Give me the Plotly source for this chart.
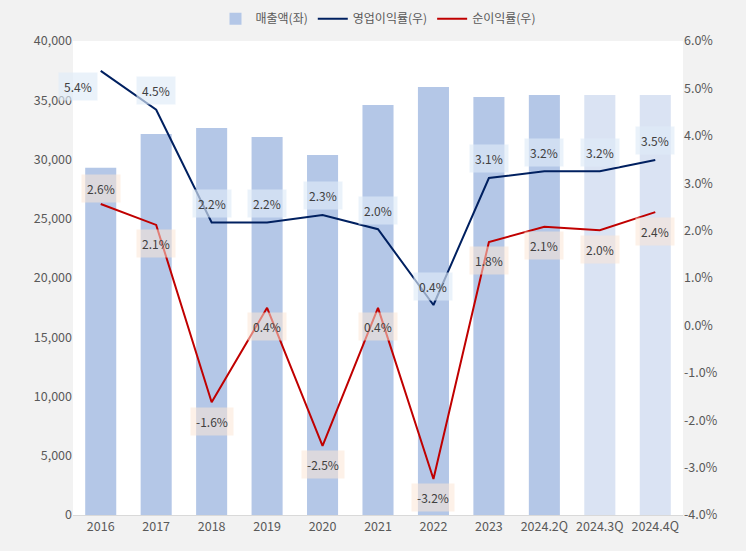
import plotly.graph_objects as go

categories = ["2016", "2017", "2018", "2019", "2020", "2021", "2022", "2023", "2024.2Q", "2024.3Q", "2024.4Q"]
sales = [29300, 32150, 32650, 31900, 30380, 34600, 36120, 35270, 35440, 35440, 35440]
op_margin = [5.37, 4.55, 2.17, 2.17, 2.33, 2.03, 0.43, 3.11, 3.25, 3.25, 3.49]
net_margin = [2.56, 2.12, -1.62, 0.37, -2.54, 0.37, -3.24, 1.76, 2.08, 2.01, 2.39]
op_labels = ["5.4%", "4.5%", "2.2%", "2.2%", "2.3%", "2.0%", "0.4%", "3.1%", "3.2%", "3.2%", "3.5%"]
net_labels = ["2.6%", "2.1%", "-1.6%", "0.4%", "-2.5%", "0.4%", "-3.2%", "1.8%", "2.1%", "2.0%", "2.4%"]
right_tickvals = [-4, -3, -2, -1, 0, 1, 2, 3, 4, 5, 6]
right_ticktext = ["-4.0%", "-3.0%", "-2.0%", "-1.0%", "0.0%", "1.0%", "2.0%", "3.0%", "4.0%", "5.0%", "6.0%"]

bar_colors = ["#b4c7e7"] * 9 + ["#dae3f3"] * 2
FONT = "Noto Sans CJK KR"

fig = go.Figure()
fig.add_trace(go.Bar(x=categories, y=sales, name="매출액(좌)", marker_color=bar_colors,
                     marker_line_width=0, width=0.56, yaxis="y"))
fig.add_trace(go.Scatter(x=categories, y=op_margin, name="영업이익률(우)", mode="lines",
                         line=dict(color="#002060", width=2), yaxis="y2"))
fig.add_trace(go.Scatter(x=categories, y=net_margin, name="순이익률(우)", mode="lines",
                         line=dict(color="#c00000", width=2), yaxis="y2"))

annotations = []
for i, (v, t) in enumerate(zip(op_margin, op_labels)):
    annotations.append(dict(x=i, y=v, xref="x", yref="y2", text=t, showarrow=False,
                            yshift=-16 if i == 0 else 19, xshift=-23 if i == 0 else 0,
                            bgcolor="rgba(222,235,247,0.65)", borderpad=5,
                            font=dict(family=FONT, size=12, color="#404040")))
for i, (v, t) in enumerate(zip(net_margin, net_labels)):
    annotations.append(dict(x=i, y=v, xref="x", yref="y2", text=t, showarrow=False,
                            yshift=16 if i == 0 else -19,
                            bgcolor="rgba(251,229,214,0.55)", borderpad=5,
                            font=dict(family=FONT, size=12, color="#404040")))

fig.update_layout(
    width=746, height=551,
    margin=dict(l=73, r=63, t=41, b=36, autoexpand=False),
    paper_bgcolor="#f2f2f2", plot_bgcolor="#ffffff",
    font=dict(family=FONT, size=12, color="#595959"),
    showlegend=True,
    legend=dict(orientation="h", x=0.5, xanchor="center", y=1.047, yanchor="middle",
                font=dict(size=12, color="#595959"), bgcolor="rgba(0,0,0,0)",
                itemwidth=30, tracegroupgap=0),
    xaxis=dict(type="category", showgrid=False, showline=True, linecolor="#d9d9d9",
               ticks="", tickfont=dict(size=12.5, color="#595959"), range=[-0.5, 10.5]),
    yaxis=dict(range=[0, 40000], dtick=5000, tickformat=",", showgrid=False,
               zeroline=False, showline=False, tickfont=dict(size=12.5, color="#595959")),
    yaxis2=dict(range=[-4, 6], tickvals=right_tickvals, ticktext=right_ticktext, overlaying="y",
                side="right", showgrid=False, zeroline=False, showline=False,
                tickfont=dict(size=12.5, color="#595959")),
    annotations=annotations,
)

fig.write_html("out.html", config={"displayModeBar": False},
               post_script="document.body.style.margin='0';document.body.style.background='#f2f2f2';")
